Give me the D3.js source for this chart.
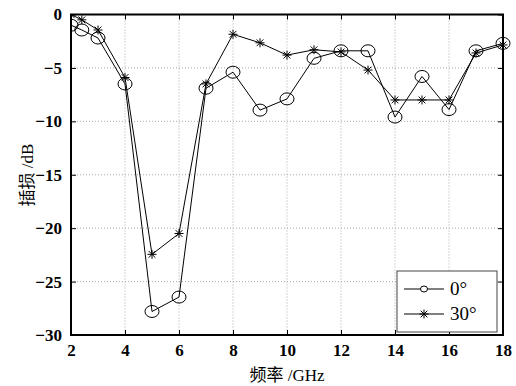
<!DOCTYPE html>
<html>
<head>
<meta charset="utf-8">
<script src="https://cdn.jsdelivr.net/npm/d3@7"></script>
<style>
  body { margin: 0; background: #fff; }
  svg text { font-family: "Liberation Serif", "Times New Roman", serif; }
</style>
</head>
<body>
<svg id="id_svg" width="516" height="386"></svg>
<script>
// frequency (GHz) and insertion loss (dB)
freq = [2, 2.4, 3, 4, 5, 6, 7, 8, 9, 10, 11, 12, 13, 14, 15, 16, 17, 18]
loss0 = [-1.0, -1.45, -2.2, -6.5, -27.8, -26.45, -6.9, -5.4, -8.95, -7.9, -4.1, -3.4, -3.4, -9.6, -5.8, -8.9, -3.4, -2.7]
loss30 = [0, -0.5, -1.45, -5.9, -22.45, -20.5, -6.5, -1.85, -2.65, -3.8, -3.3, -3.5, -5.2, -8.0, -8.0, -8.0, -3.6, -2.85]
xTicks = [2, 4, 6, 8, 10, 12, 14, 16, 18]
yTicks = [0, -5, -10, -15, -20, -25, -30]
seriesNames = ["0°", "30°"]

chart = function() {
    const svg = d3.select("#id_svg");
    const left = 71, right = 503, top = 14.5, bottom = 335;

    const x = d3.scaleLinear().domain([2, 18]).range([left, right]);
    const y = d3.scaleLinear().domain([-30, 0]).range([bottom, top]);

    // dotted grid
    const grid = svg.append("g").attr("stroke", "#aaa").attr("stroke-dasharray", "1,2").attr("stroke-width", 1);
    grid.selectAll("line.gx")
        .data(xTicks.slice(1, -1))
        .join("line")
        .attr("x1", d => x(d)).attr("x2", d => x(d))
        .attr("y1", top).attr("y2", bottom);
    grid.selectAll("line.gy")
        .data(yTicks.slice(1, -1))
        .join("line")
        .attr("x1", left).attr("x2", right)
        .attr("y1", d => y(d)).attr("y2", d => y(d));

    // axes with inward ticks
    const xAxis = svg.append("g")
        .attr("transform", `translate(0,${bottom})`)
        .call(d3.axisBottom(x).tickValues(xTicks).tickSize(-5).tickPadding(9).tickSizeOuter(0));
    const yAxis = svg.append("g")
        .attr("transform", `translate(${left},0)`)
        .call(d3.axisLeft(y).tickValues(yTicks).tickSize(-5).tickPadding(9).tickSizeOuter(0));
    svg.append("g").attr("transform", `translate(0,${top})`)
        .call(d3.axisTop(x).tickValues(xTicks).tickSize(-5).tickFormat("").tickSizeOuter(0));
    svg.append("g").attr("transform", `translate(${right},0)`)
        .call(d3.axisRight(y).tickValues(yTicks).tickSize(-5).tickFormat("").tickSizeOuter(0));
    svg.selectAll(".domain").remove();
    svg.selectAll(".tick line").attr("stroke", "#000");
    [xAxis, yAxis].forEach(a => a.selectAll("text")
        .attr("font-family", "Liberation Serif")
        .attr("font-size", 17)
        .attr("font-weight", "bold")
        .attr("fill", "#000"));

    svg.append("rect")
        .attr("x", left).attr("y", top)
        .attr("width", right - left).attr("height", bottom - top)
        .attr("fill", "none").attr("stroke", "#000").attr("stroke-width", 2);

    svg.append("clipPath").attr("id", "clip")
        .append("rect").attr("x", left).attr("y", top)
        .attr("width", right - left + 10).attr("height", bottom - top);

    const plot = svg.append("g").attr("clip-path", "url(#clip)");
    const line = d3.line().x((d, i) => x(freq[i])).y(d => y(d));

    [loss0, loss30].forEach(s => {
        plot.append("path").datum(s)
            .attr("d", line)
            .attr("fill", "none").attr("stroke", "#000").attr("stroke-width", 1);
    });

    plot.selectAll("ellipse.m0")
        .data(loss0)
        .join("ellipse")
        .attr("cx", (d, i) => x(freq[i])).attr("cy", d => y(d))
        .attr("rx", 7).attr("ry", 6)
        .attr("fill", "none").attr("stroke", "#000").attr("stroke-width", 1);

    function star(g, cx, cy, r) {
        const a = r * 0.75;
        g.append("path")
            .attr("d", `M${cx - r},${cy}H${cx + r}M${cx},${cy - r}V${cy + r}` +
                `M${cx - a},${cy - a}L${cx + a},${cy + a}M${cx - a},${cy + a}L${cx + a},${cy - a}`)
            .attr("stroke", "#000").attr("stroke-width", 1).attr("fill", "none");
    }
    loss30.forEach((d, i) => star(plot, x(freq[i]), y(d), 4.5));

    // legend
    const lg = svg.append("g");
    lg.append("rect").attr("x", 397).attr("y", 271).attr("width", 100).attr("height", 61)
        .attr("fill", "#fff").attr("stroke", "#444").attr("stroke-width", 1);
    seriesNames.forEach((name, i) => {
        const ly = 289 + i * 25;
        lg.append("line").attr("x1", 404).attr("x2", 444).attr("y1", ly).attr("y2", ly)
            .attr("stroke", "#000").attr("stroke-width", 1);
        if (i === 0) {
            lg.append("ellipse").attr("cx", 424).attr("cy", ly).attr("rx", 3.5).attr("ry", 3)
                .attr("fill", "#fff").attr("stroke", "#000");
        } else {
            star(lg, 424, ly, 4.5);
        }
        lg.append("text").attr("x", 450).attr("y", ly + 6)
            .attr("font-size", 19).text(name);
    });

    // axis titles
    svg.append("text")
        .attr("x", 287).attr("y", 381)
        .attr("text-anchor", "middle")
        .attr("font-size", 17)
        .style("font-family", "'Liberation Serif', 'Noto Sans CJK SC', serif")
        .text("频率 /GHz");
    svg.append("text")
        .attr("transform", "translate(33,175) rotate(-90)")
        .attr("text-anchor", "middle")
        .attr("font-size", 17)
        .style("font-family", "'Liberation Serif', 'Noto Sans CJK SC', serif")
        .text("插损 /dB");

    return svg.node();
}
chart()
</script>
</body>
</html>
